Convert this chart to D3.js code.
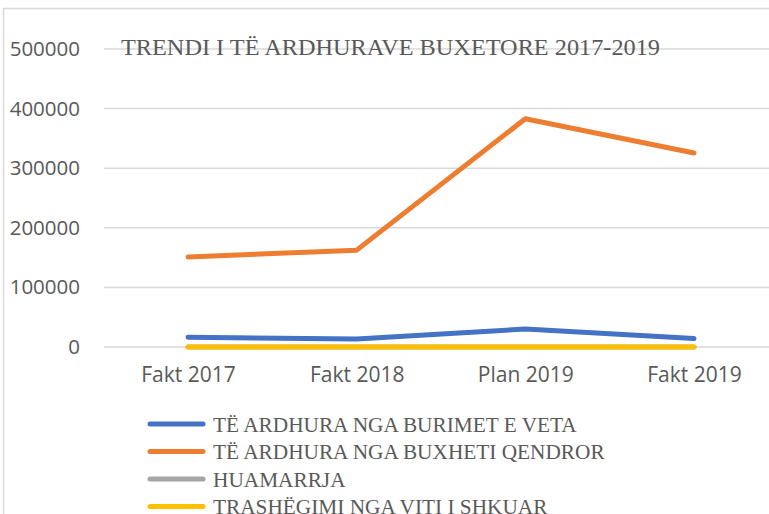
<!DOCTYPE html>
<html><head><meta charset="utf-8">
<script src="https://cdn.jsdelivr.net/npm/d3@7"></script>
<style>body{margin:0;background:#fff}svg{display:block}</style>
</head><body>
<script>
const categories = ["Fakt 2017","Fakt 2018","Plan 2019","Fakt 2019"];
const seriesNames = ["TË ARDHURA NGA BURIMET E VETA","TË ARDHURA NGA BUXHETI QENDROR","HUAMARRJA","TRASHËGIMI NGA VITI I SHKUAR"];
const burimetVeta = [16300, 13400, 30200, 14200];
const buxhetiQendror = [151000, 162500, 383000, 325500];
const huamarrja = [0, 0, 0, 0];
const trashegimi = [0, 0, 0, 0];
const yTicks = [0,100000,200000,300000,400000,500000];
const title = "TRENDI I TË ARDHURAVE BUXETORE 2017-2019";
const colors = ["#4472C4","#ED7D31","#A5A5A5","#FFC000"];
const series = [burimetVeta, buxhetiQendror, huamarrja, trashegimi];

const W=769,H=514;
const svg=d3.select("body").append("svg").attr("width",W).attr("height",H);
svg.append("rect").attr("x",3.5).attr("y",8.5).attr("width",W+20).attr("height",H+20)
  .attr("fill","none").attr("stroke","#d9d9d9").attr("stroke-width",1.5);

const x=d3.scalePoint().domain(categories).range([188,694]);
const y=d3.scaleLinear().domain([0,500000]).range([347,49]);

// gridlines
svg.append("g").selectAll("line").data(yTicks).join("line")
  .attr("x1",104).attr("x2",W).attr("y1",d=>y(d)).attr("y2",d=>y(d))
  .attr("stroke","#d9d9d9").attr("stroke-width",1.5);

const sans="'Open Sans', 'Liberation Sans', sans-serif";
// y axis
const ya=svg.append("g").attr("transform","translate(104,0)")
  .call(d3.axisLeft(y).tickValues(yTicks).tickFormat(d3.format("d")).tickSize(0).tickPadding(24));
ya.select(".domain").remove();
ya.selectAll("text").attr("fill","#595959").attr("font-size","20.5px").attr("font-family",sans);

// x axis
const xa=svg.append("g").attr("transform","translate(0,347)")
  .call(d3.axisBottom(x).tickSize(0).tickPadding(20));
xa.select(".domain").remove();
xa.selectAll("text").attr("fill","#595959").attr("font-size","21px").attr("font-family",sans);

// title
svg.append("text").attr("x",121).attr("y",55).text(title)
  .attr("textLength",539).attr("lengthAdjust","spacingAndGlyphs")
  .attr("fill","#595959").attr("font-size","24px").attr("font-family","'Liberation Serif', serif");

// lines
const line=d3.line().x((d,i)=>x(categories[i])).y(d=>y(d));
svg.append("g").selectAll("path").data(series).join("path")
  .attr("d",d=>line(d)).attr("fill","none").attr("stroke",(d,i)=>colors[i])
  .attr("stroke-width",5).attr("stroke-linecap","round").attr("stroke-linejoin","round");

// legend
const lg=svg.append("g").selectAll("g").data(seriesNames).join("g")
  .attr("transform",(d,i)=>`translate(0,${424+i*27.5})`);
lg.append("line").attr("x1",150).attr("x2",203).attr("y1",0).attr("y2",0)
  .attr("stroke",(d,i)=>colors[i]).attr("stroke-width",5).attr("stroke-linecap","round");
lg.append("text").attr("x",213).attr("y",7.5).text(d=>d)
  .attr("fill","#595959").attr("font-size","21.3px").attr("font-family","'Liberation Serif', serif");
</script>
</body></html>
